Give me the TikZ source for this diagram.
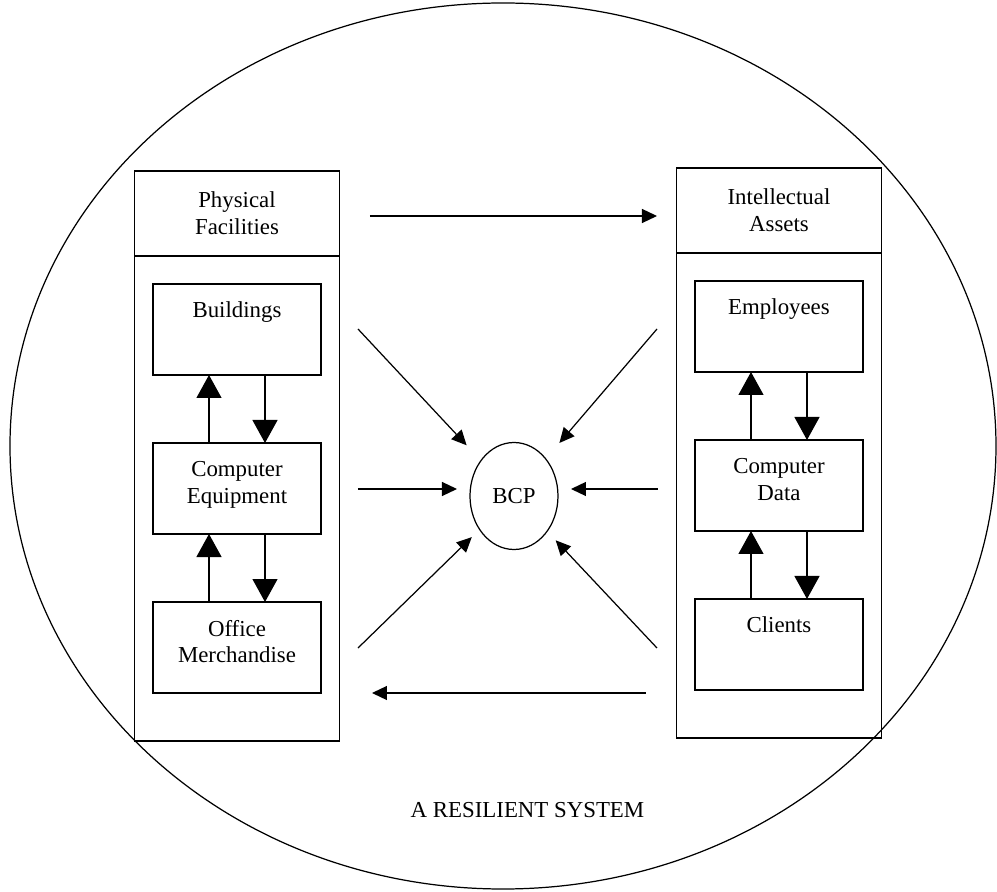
\documentclass[tikz,border=0pt]{standalone}
\usepackage{fontspec}
\setmainfont{Liberation Serif}
\usetikzlibrary{positioning,arrows.meta,shapes.geometric}

\newcommand{\toptext}[1]{\parbox[t][1.1cm][t]{3.2cm}{\centering #1}}

\begin{document}
\begin{tikzpicture}[
    line width=0.7pt,
    every node/.style={font=\fontsize{13}{15.3}\selectfont, outer sep=0pt},
    headbox/.style={rectangle, draw, minimum width=4.1cm, minimum
      height=1.7cm, align=center},
    bodybox/.style={rectangle, draw, minimum width=4.1cm, minimum
      height=9.7cm},
    assetbox/.style={rectangle, draw, minimum width=3.36cm, minimum
      height=1.82cm, inner sep=0pt},
    linkarr/.style={-{Triangle[width=0.5cm, length=0.46cm]}},
    arr/.style={-{Triangle[width=0.28cm, length=0.3cm]}},
  ]
  \useasboundingbox (-10.28, -7.92) rectangle (9.66, 9.92);

  \node[draw, ellipse, minimum width=19.72cm, minimum height=17.72cm]
    (system) at (-0.22, 1.0) {};
  \node (syslabel) at (0.27, -6.28) {A RESILIENT SYSTEM};

  % physical side
  \node[headbox] (phys) at (-5.54, 5.65) {Physical\\Facilities};
  \node[bodybox, below=0cm of phys] (physbody) {};
  \node[assetbox, below=0.56cm of phys] (bldg) {\toptext{Buildings}};
  \node[assetbox, below=1.36cm of bldg] (equip) {\toptext{Computer\\Equipment}};
  \node[assetbox, below=1.36cm of equip] (merch) {\toptext{Office\\Merchandise}};

  \draw[linkarr] ([xshift=-0.56cm]equip.north) -- ([xshift=-0.56cm]bldg.south);
  \draw[linkarr] ([xshift=0.56cm]bldg.south) -- ([xshift=0.56cm]equip.north);
  \draw[linkarr] ([xshift=-0.56cm]merch.north) -- ([xshift=-0.56cm]equip.south);
  \draw[linkarr] ([xshift=0.56cm]equip.south) -- ([xshift=0.56cm]merch.north);

  % intellectual side
  \node[headbox] (intel) at (5.30, 5.71) {Intellectual\\Assets};
  \node[bodybox, below=0cm of intel] (intelbody) {};
  \node[assetbox, below=0.56cm of intel] (staff) {\toptext{Employees}};
  \node[assetbox, below=1.36cm of staff] (data) {\toptext{Computer\\Data}};
  \node[assetbox, below=1.36cm of data] (clients) {\toptext{Clients}};

  \draw[linkarr] ([xshift=-0.56cm]data.north) -- ([xshift=-0.56cm]staff.south);
  \draw[linkarr] ([xshift=0.56cm]staff.south) -- ([xshift=0.56cm]data.north);
  \draw[linkarr] ([xshift=-0.56cm]clients.north) -- ([xshift=-0.56cm]data.south);
  \draw[linkarr] ([xshift=0.56cm]data.south) -- ([xshift=0.56cm]clients.north);

  % the plan in the middle
  \node[draw, ellipse, minimum width=1.76cm, minimum height=2.14cm,
    inner sep=0pt] (bcp) at (0, 0) {BCP};

  \coordinate (topl) at (-2.88, 5.60);
  \coordinate (topr) at (2.86, 5.60);
  \coordinate (botr) at (2.64, -3.94);
  \coordinate (botl) at (-2.84, -3.94);
  \draw[arr] (topl) -- (topr);
  \draw[arr] (botr) -- (botl);

  \coordinate (tlin) at (-3.12, 3.34);
  \coordinate (trin) at (2.86, 3.34);
  \coordinate (lin) at (-3.12, 0.14);
  \coordinate (rin) at (2.88, 0.14);
  \coordinate (blin) at (-3.12, -3.04);
  \coordinate (brin) at (2.86, -3.04);

  \draw[arr, shorten >=0.42cm] (tlin) -- (bcp);
  \draw[arr, shorten >=0.42cm] (trin) -- (bcp);
  \draw[arr, shorten >=0.26cm] (lin) -- (lin -| bcp.west);
  \draw[arr, shorten >=0.26cm] (rin) -- (rin -| bcp.east);
  \draw[arr, shorten >=0.22cm] (blin) -- (bcp);
  \draw[arr, shorten >=0.25cm] (brin) -- (bcp);
\end{tikzpicture}
\end{document}
